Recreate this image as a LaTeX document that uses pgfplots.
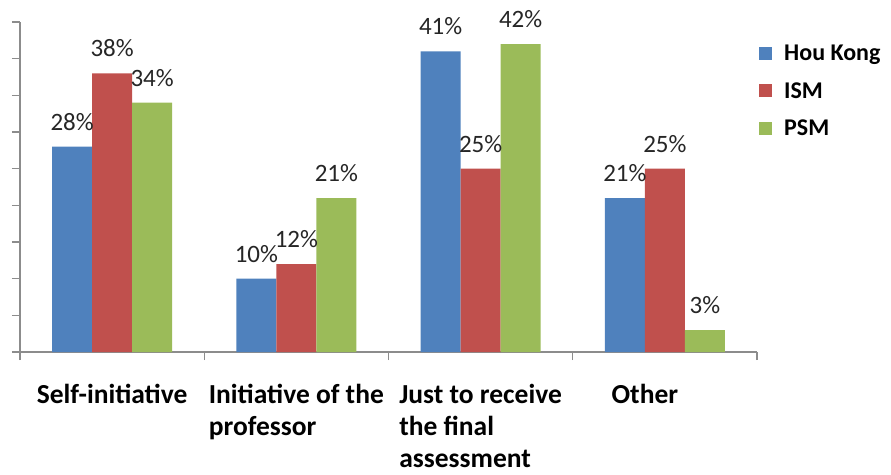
\documentclass[border=0pt]{standalone}
\usepackage{fontspec}
\setmainfont{Carlito}
\usepackage{pgfplots}
\pgfplotsset{compat=1.18}
\definecolor{cblue}{HTML}{4F81BD}
\definecolor{cred}{HTML}{C0504D}
\definecolor{cgreen}{HTML}{9BBB59}
\definecolor{axgray}{HTML}{8C8C8C}
\begin{document}
\begin{tikzpicture}
\path[use as bounding box] (-20pt,-122pt) rectangle (871pt,352pt);
\begin{axis}[
  scale only axis, width=737pt, height=330pt,
  at={(0pt,0pt)}, anchor=south west,
  xmin=0.5, xmax=4.5, ymin=0, ymax=45,
  axis x line=bottom, axis y line=left,
  axis line style={-, draw=axgray, line width=1.2pt},
  tick style={draw=axgray, line width=1.2pt},
  tick align=outside, major tick length=8pt,
  ytick={0,5,...,45}, yticklabels={},
  xtick={0.5,1.5,2.5,3.5,4.5}, xticklabels={},
  extra x ticks={1,2,3,4},
  extra x tick labels={Self-initiative, {Initiative of the\\professor}, {Just to receive\\the final\\assessment}, {Other\hspace*{40pt}}},
  extra x tick style={major tick length=0pt},
  xticklabel style={anchor=north, align=left, inner sep=0pt, yshift=-32pt,
     font=\fontsize{27.5}{32}\selectfont\bfseries},
  /pgf/number format/assume math mode=true,
  ybar=0pt, bar width=40pt,
  nodes near coords={\pgfmathprintnumber{\pgfplotspointmeta}\%},
  every node near coord/.append style={anchor=south, inner sep=0pt, yshift=16pt,
     font=\fontsize{25}{25}\selectfont, text=black!85},
  legend style={at={(1,1)}, anchor=north west, xshift=2pt, yshift=-21pt,
     draw=none, fill=none, inner sep=0pt, row sep=16pt,
     font=\fontsize{24}{24}\selectfont\bfseries,
     /tikz/every odd column/.append style={column sep=10pt}},
  legend cell align=left,
  legend image code/.code={\fill[#1] (0pt,-6.5pt) rectangle (13pt,6.5pt);},
]
\addplot[fill=cblue, draw=none] coordinates {(1,28) (2,10) (3,41) (4,21)};
\addplot[fill=cred, draw=none] coordinates {(1,38) (2,12) (3,25) (4,25)};
\addplot[fill=cgreen, draw=none] coordinates {(1,34) (2,21) (3,42) (4,3)};
\legend{Hou Kong, ISM, PSM}
\end{axis}
\end{tikzpicture}
\end{document}
